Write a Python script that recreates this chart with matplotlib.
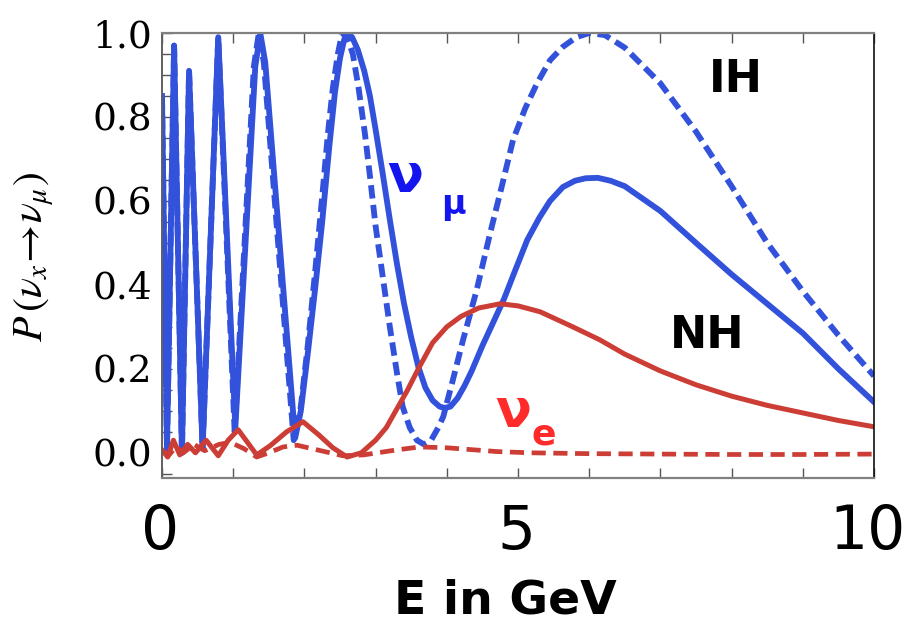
import matplotlib
matplotlib.use("Agg")
import matplotlib.pyplot as plt
from matplotlib.ticker import MultipleLocator, FixedLocator
from matplotlib.transforms import ScaledTranslation

plt.rcParams['mathtext.fontset'] = 'stix'

# muon-neutrino appearance, normal hierarchy (solid blue)
E_mu_nh = [0.00, 0.07, 0.17, 0.28, 0.38, 0.57, 0.79, 1.03, 1.31, 1.38, 1.45, 1.87,
           1.95, 2.05, 2.15, 2.25, 2.35, 2.43, 2.50, 2.56, 2.61, 2.67, 2.75, 2.84,
           2.92, 3.00, 3.10, 3.20, 3.30, 3.40, 3.50, 3.60, 3.70, 3.80, 3.90, 3.97,
           4.05, 4.15, 4.25, 4.35, 4.50, 4.65, 4.80, 4.95, 5.13, 5.30, 5.45, 5.63,
           5.80, 5.95, 6.12, 6.30, 6.50, 7.00, 7.50, 8.00, 8.50, 9.00, 9.50, 10.0]
P_mu_nh = [0.85, 0.01, 0.97, 0.00, 0.91, 0.01, 0.99, 0.06, 0.92, 1.00, 0.93, 0.035,
           0.10, 0.24, 0.39, 0.55, 0.73, 0.86, 0.94, 0.985, 1.00, 0.99, 0.96, 0.91,
           0.85, 0.77, 0.665, 0.555, 0.45, 0.355, 0.275, 0.205, 0.155, 0.125, 0.11, 0.107,
           0.11, 0.13, 0.16, 0.195, 0.255, 0.31, 0.365, 0.43, 0.507, 0.56, 0.60, 0.633,
           0.648, 0.654, 0.655, 0.648, 0.635, 0.576, 0.50, 0.425, 0.355, 0.285, 0.20, 0.121]

# muon-neutrino appearance, inverted hierarchy (dashed blue)
E_mu_ih = [0.00, 0.07, 0.17, 0.28, 0.38, 0.57, 0.79, 1.02, 1.29, 1.36, 1.43, 1.85,
           1.95, 2.05, 2.15, 2.25, 2.33, 2.40, 2.47, 2.53, 2.60, 2.68, 2.76, 2.85,
           2.92, 3.00, 3.10, 3.20, 3.30, 3.38, 3.48, 3.58, 3.68, 3.78, 3.88, 3.95,
           4.08, 4.23, 4.42, 4.61, 4.78, 4.93, 5.10, 5.27, 5.45, 5.63, 5.82, 6.00,
           6.22, 6.50, 7.00, 7.50, 8.00, 8.50, 9.00, 9.50, 10.0]
P_mu_ih = [0.85, 0.01, 0.97, 0.00, 0.91, 0.01, 0.99, 0.05, 0.92, 1.00, 0.93, 0.03,
           0.11, 0.26, 0.43, 0.61, 0.76, 0.87, 0.95, 1.00, 0.99, 0.95, 0.87, 0.76,
           0.66, 0.54, 0.42, 0.30, 0.19, 0.11, 0.06, 0.03, 0.02, 0.03, 0.06, 0.086,
           0.17, 0.27, 0.388, 0.524, 0.64, 0.745, 0.82, 0.881, 0.935, 0.967, 0.99, 1.00,
           0.995, 0.965, 0.88, 0.765, 0.635, 0.50, 0.385, 0.28, 0.183]

# electron-neutrino appearance, normal hierarchy (solid red)
E_e_nh = [0.00, 0.08, 0.16, 0.25, 0.36, 0.47, 0.62, 0.79, 0.93, 1.07, 1.20, 1.33,
          1.52, 1.75, 1.98, 2.20, 2.40, 2.60, 2.80, 3.00, 3.15, 3.30, 3.45, 3.60,
          3.80, 4.00, 4.20, 4.45, 4.75, 5.00, 5.31, 5.77, 6.15, 6.50, 7.00, 7.50,
          8.00, 8.50, 9.00, 9.50, 10.0]
P_e_nh = [0.007, -0.01, 0.03, -0.005, 0.02, 0.00, 0.03, -0.007, 0.03, 0.055, 0.025, -0.005,
          0.017, 0.05, 0.074, 0.043, 0.012, -0.01, 0.00, 0.03, 0.06, 0.105, 0.15, 0.20,
          0.262, 0.30, 0.325, 0.345, 0.355, 0.35, 0.336, 0.30, 0.269, 0.235, 0.195, 0.162,
          0.135, 0.113, 0.095, 0.077, 0.062]

# electron-neutrino appearance, inverted hierarchy (dashed red)
E_e_ih = [0.00, 0.10, 0.20, 0.30, 0.45, 0.60, 0.80, 0.96, 1.15, 1.33, 1.50, 1.70,
          1.90, 2.18, 2.54, 2.83, 3.30, 3.62, 4.00, 4.70, 5.17, 6.00, 7.00, 8.00,
          9.00, 10.0]
P_e_ih = [0.005, -0.005, 0.015, 0.00, 0.02, 0.005, 0.02, 0.025, 0.01, -0.01, 0.00, 0.014,
          0.018, 0.007, -0.007, -0.005, 0.007, 0.014, 0.012, 0.003, 0.00, -0.002, -0.003, -0.004,
          -0.004, -0.003]

blue = '#3352dc'
red = '#cc3d35'

fig = plt.figure(figsize=(9.06, 6.26), dpi=100)
ax = fig.add_axes([162 / 906, 148 / 626, 712 / 906, 445 / 626])

ax.plot(E_mu_nh, P_mu_nh, color=blue, lw=4.2, solid_joinstyle='round')
ax.plot(E_mu_ih, P_mu_ih, color=blue, lw=4.2, dashes=(2.3, 1.1))
ax.plot(E_e_nh, P_e_nh, color=red, lw=3.6, solid_joinstyle='round')
ax.plot(E_e_ih, P_e_ih, color=red, lw=3.4, dashes=(3.0, 1.6))

ax.set_xlim(0, 10)
ax.set_ylim(-0.06, 1.0)

ax.xaxis.set_major_locator(FixedLocator([0, 5, 10]))
ax.xaxis.set_minor_locator(MultipleLocator(1))
ax.yaxis.set_minor_locator(MultipleLocator(0.05))
ax.set_xticklabels(['0', '5', '10'], fontsize=43, family='DejaVu Sans')
ax.set_yticks([0.0, 0.2, 0.4, 0.6, 0.8, 1.0])
ax.set_yticklabels(['0.0', '0.2', '0.4', '0.6', '0.8', '1.0'], fontsize=27, family='DejaVu Serif')

ax.tick_params(axis='x', which='both', direction='in', top=True, length=7, width=1,
               color='#555555', pad=18)
ax.tick_params(axis='y', which='both', direction='in', right=False, length=7, width=1,
               color='#555555', pad=7)

# nudge the bottom labels a little left so "10" stays inside the figure
for lbl, dx in zip(ax.get_xticklabels(), [-2, -2, -7]):
    lbl.set_transform(lbl.get_transform() + ScaledTranslation(dx / 100, 0, fig.dpi_scale_trans))

for side in ['top', 'bottom']:
    ax.spines[side].set_color('#808080')
    ax.spines[side].set_linewidth(1.6)
ax.spines['left'].set_color('#606060')
ax.spines['left'].set_linewidth(1.4)
ax.spines['right'].set_color('#111111')
ax.spines['right'].set_linewidth(1.2)

fig.text(505 / 906, 13 / 626, 'E in GeV', ha='center', va='baseline',
         fontsize=34, fontweight='bold', family='DejaVu Sans')
fig.text(34 / 906, (626 - 257) / 626, r'$P\,(\nu_x\!\rightarrow\!\nu_\mu)$',
         rotation=90, ha='center', va='center', fontsize=30)

# curve labels
ax.text(0.3413, 0.6427, 'ν', transform=ax.transAxes, ha='center', va='baseline',
        fontsize=38, fontweight='bold', color='#1414ee')
ax.text(0.409, 0.593, 'μ', transform=ax.transAxes, ha='center', va='baseline',
        fontsize=24, fontweight='bold', color='#1414ee')
ax.text(0.493, 0.1146, 'ν', transform=ax.transAxes, ha='center', va='baseline',
        fontsize=38, fontweight='bold', color='#ff2b2b')
ax.text(0.5365, 0.0742, 'e', transform=ax.transAxes, ha='center', va='baseline',
        fontsize=26, fontweight='bold', color='#ff2b2b')
ax.text(0.806, 0.867, 'IH', transform=ax.transAxes, ha='center', va='baseline',
        fontsize=32, fontweight='bold', color='black')
ax.text(0.7655, 0.292, 'NH', transform=ax.transAxes, ha='center', va='baseline',
        fontsize=32, fontweight='bold', color='black')

fig.savefig('out.png', dpi=100)
